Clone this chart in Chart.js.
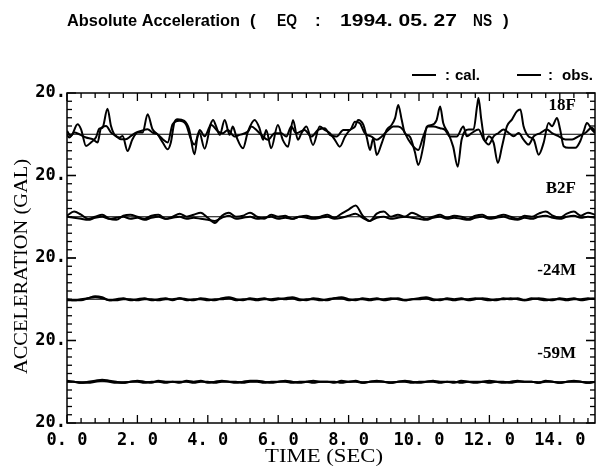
<!DOCTYPE html>
<html><head><meta charset="utf-8">
<script src="https://cdn.jsdelivr.net/npm/chart.js@4.4.1/dist/chart.umd.min.js"></script>
<style>html,body{margin:0;padding:0;background:#fff;}</style>
</head><body>
<canvas id="c" width="601" height="469"></canvas>
<script>
// ---------------- DATA ----------------
const bandNames = ['18F', 'B2F', '-24M', '-59M'];
const seriesNames = ['cal.', 'obs.'];
const xTickValues = [0, 2, 4, 6, 8, 10, 12, 14];
const bandTickTop = [20];
const bandTickBottom = [20, -20];
const sampleStep = 0.2; // sec, lower floors

// 18F (read at irregular times, sec / gal)
const tObs18F = [0.00,0.11,0.30,0.40,0.54,0.68,0.82,0.92,1.01,1.15,1.25,1.34,1.49,1.58,1.72,1.86,2.01,2.15,2.29,2.43,2.57,2.72,2.86,2.95,3.05,3.14,3.33,3.47,3.62,3.71,
 3.77,3.91,4.05,4.15,4.24,4.34,4.48,4.62,4.71,4.81,5.00,5.14,5.33,5.47,5.57,5.66,5.80,5.99,6.13,6.28,6.42,6.56,6.66,6.80,6.99,7.18,7.32,
 7.47,7.61,7.75,7.90,8.04,8.18,8.27,8.42,8.51,8.61,8.70,8.80,8.94,9.08,9.22,9.32,9.41,9.51,9.60,9.74,9.88,9.98,10.12,10.22,10.36,10.50,10.60,10.69,10.83,10.97,11.10,11.21,
 11.41,11.55,11.65,11.69,11.77,11.88,11.98,12.12,12.24,12.36,12.50,12.64,12.78,12.88,12.97,13.11,13.26,13.40,13.54,13.68,13.78,13.92,14.01,14.11,14.25,14.44,14.58,14.68,14.77,14.91,15.00];
const vObs18F = [1.6,-0.8,4.8,2.4,-5.7,-4.0,-1.6,2.7,3.2,12.4,4.0,0,-1.6,-0.8,-8.1,-2.4,0.8,0.8,9.7,2.4,0,-4.0,-7.3,-4.0,5.7,7.3,6.5,2.4,-9.7,-0.8,
 2.1,-1.0,3.7,6.9,3.7,-0.3,6.9,-0.3,3.7,-1.1,-6.8,1.3,6.9,2.9,-2.7,2.1,-6.8,4.5,-2.7,-6.0,6.9,-2.7,0.5,3.7,-5.2,3.7,2.1,
 0.5,-2.7,-6.0,-1.1,2.1,3.7,6.9,4.5,-1.1,-7.6,-1.9,-10.0,-4.4,2.1,4.5,7.8,14.2,6.9,0.5,-1.1,-8.4,-14.9,-6.0,3.7,4.5,6.9,13.4,5.3,0.5,-6.0,-15.7,-2.7,
 2.3,2.3,13.6,17.6,7.1,-3.4,-1.0,-4.2,-13.9,-5.8,3.9,7.1,11.1,12.0,3.9,-1.0,-2.6,-9.9,-4.2,5.5,3.9,7.9,2.3,-5.8,-6.6,-6.6,-3.4,1.5,5.5,2.3,0.6];

const tCal18F = [0.00,0.06,0.21,0.35,0.54,0.73,0.87,0.96,1.11,1.25,1.39,1.53,1.67,1.82,1.96,2.10,2.29,2.43,2.57,2.72,2.86,3.00,3.19,3.38,3.52,3.62,3.76,
 3.91,4.10,4.29,4.43,4.57,4.76,4.90,5.14,5.24,5.38,5.52,5.71,5.90,6.09,6.23,6.37,6.51,6.75,6.94,7.13,7.32,
 7.47,7.66,7.85,8.04,8.18,8.32,8.46,8.65,8.80,8.94,9.13,9.27,9.41,9.55,9.70,9.84,9.98,10.12,10.26,10.41,10.60,10.74,10.88,11.07,11.26,
 11.36,11.50,11.69,11.84,11.98,12.12,12.26,12.40,12.55,12.69,12.83,12.97,13.11,13.26,13.45,13.63,13.78,13.97,14.16,14.35,14.53,14.72,14.91,15.00];
const vCal18F = [0,-1.6,0.8,0,-1.6,-2.4,-4.0,2.7,4.0,0.8,-0.8,-2.4,-2.4,-0.8,0.8,1.6,2.4,0.8,0,-2.4,-4.0,4.8,6.5,4.8,-2.4,-5.0,0.8,
 -7.0,4.5,1.3,0.5,2.1,-1.1,-0.3,1.3,3.7,2.1,-0.3,-2.7,0.5,0.5,-1.1,3.7,0.5,2.1,-1.1,2.1,2.9,
 -0.3,-1.1,2.1,2.1,6.1,5.3,0.5,-1.1,-2.7,-1.1,2.1,3.7,3.7,2.1,-2.7,-6.0,-7.6,-1.1,3.7,3.7,2.9,2.1,-1.1,-1.1,3.7,
 -1.0,0.6,2.3,-2.6,-5.0,-1.0,0.6,2.3,0.6,-1.0,0.6,-2.6,-5.0,-1.0,0.6,2.3,0.6,-1.0,-2.6,-2.6,-1.0,0.6,3.1,1.5];

// lower floors, every 0.2 sec from 0 to 15 (gal)
const obsB2F = [0.5,2.5,1.0,-1.0,0.0,1.0,-1.0,-1.5,0.5,1.0,
 0.0,-1.0,0.5,1.0,-1.0,0.0,1.5,0.0,1.0,2.0,
 -0.5,-3.0,0.5,2.0,0.0,0.5,2.0,0.0,-1.0,1.0,
 0.0,0.5,-1.0,0.0,0.5,-0.5,0.0,1.0,-0.5,1.5,
 3.5,5.5,0.5,-2.0,1.5,2.5,0.0,1.0,0.0,2.0,
 0.5,-1.0,0.0,1.0,-0.5,0.5,0.0,-1.0,0.5,1.0,
 -0.5,0.0,1.0,0.0,-1.0,0.5,0.0,1.5,2.5,0.5,
 -0.5,1.5,2.5,0.5,2.0,1.0];
const calB2F = [0.0,-0.5,-1.0,-1.5,-0.5,0.0,-1.0,-0.5,0.0,-1.0,
 -0.5,-1.5,-0.5,0.0,-1.0,-0.5,0.0,-1.0,-0.5,-1.0,
 -1.5,-2.0,-0.5,0.5,-1.0,-0.5,0.0,-1.0,-0.5,0.0,
 -1.0,-0.5,-1.0,0.0,-0.5,-1.0,-0.5,0.0,-1.0,-0.5,
 0.5,1.5,-0.5,-2.0,-0.5,0.0,-1.0,-0.5,0.0,-0.5,
 -1.0,-1.5,-0.5,0.0,-1.0,-0.5,-1.0,-1.5,-0.5,0.0,
 -1.0,-0.5,0.0,-1.0,-1.5,-0.5,-1.0,0.0,0.5,-0.5,
 -1.0,0.0,0.5,-0.5,0.0,-0.5];
const obs24M = [0.0,-0.5,-0.5,0.5,1.5,1.0,-0.5,0.0,0.5,-0.5,
 0.0,0.5,-0.5,0.0,0.5,-0.5,0.5,0.0,-0.5,0.5,
 0.0,-0.5,0.5,1.0,0.0,-0.5,0.5,0.0,0.5,-0.5,
 0.0,0.5,1.0,0.0,-0.5,0.5,0.0,-0.5,0.5,1.0,
 0.0,-0.5,0.5,0.0,0.5,-0.5,0.0,0.5,-0.5,0.0,
 0.5,1.0,0.0,-0.5,0.5,0.0,0.5,-0.5,0.0,0.5,
 0.0,-0.5,0.5,0.0,0.5,-0.5,0.0,0.5,0.0,-0.5,
 0.5,0.0,0.5,-0.5,0.0,0.5];
const cal24M = [-0.5,-0.5,0.0,0.5,1.0,0.5,-0.5,-0.5,0.0,0.0,
 -0.5,0.0,0.0,-0.5,0.0,0.0,0.5,-0.5,0.0,0.0,
 -0.5,0.0,0.0,0.5,-0.5,0.0,0.0,-0.5,0.0,0.0,
 0.5,0.0,0.5,-0.5,0.0,0.0,-0.5,0.0,0.5,0.5,
 -0.5,0.0,0.0,-0.5,0.0,0.0,0.5,0.0,-0.5,0.0,
 0.0,0.5,-0.5,0.0,0.0,-0.5,0.0,0.0,0.5,0.0,
 -0.5,0.0,0.0,0.5,0.0,-0.5,0.5,0.0,-0.5,0.0,
 0.0,-0.5,0.0,0.0,0.5,0.0];
const obs59M = [0.5,0.0,-0.5,0.0,0.5,1.0,0.5,0.0,-0.5,0.0,
 0.5,0.0,-0.5,0.5,0.0,0.0,-0.5,0.5,0.0,0.5,
 -0.5,0.0,0.5,0.0,-0.5,0.0,0.5,0.5,0.0,-0.5,
 0.0,0.5,0.0,-0.5,0.0,0.5,0.0,0.0,-0.5,0.5,
 0.0,0.5,-0.5,0.0,0.5,0.0,-0.5,0.0,0.5,0.0,
 -0.5,0.0,0.5,0.0,0.0,-0.5,0.5,0.0,-0.5,0.0,
 0.5,0.0,-0.5,0.0,0.5,0.0,0.0,-0.5,0.5,0.0,
 -0.5,0.0,0.5,0.0,-0.5,0.0];
const cal59M = [0.0,0.0,-0.5,-0.5,0.0,0.5,0.0,-0.5,-0.5,0.0,
 0.0,-0.5,0.0,0.0,-0.5,0.0,0.0,0.0,-0.5,0.0,
 0.0,-0.5,0.0,0.0,0.0,-0.5,0.0,0.0,-0.5,0.0,
 0.0,0.0,-0.5,0.0,0.0,-0.5,0.0,0.0,0.0,-0.5,
 0.0,0.0,-0.5,0.0,0.0,0.0,-0.5,0.0,0.0,-0.5,
 0.0,0.0,0.0,-0.5,0.0,0.0,-0.5,0.0,0.0,0.0,
 -0.5,0.0,0.0,-0.5,0.0,0.0,0.0,-0.5,0.0,0.0,
 -0.5,0.0,0.0,0.0,-0.5,0.0];

// ---------------- BUILD ----------------
const pts = (ts, vs) => vs.map((v, i) => ({x: ts[i], y: v}));
const tSampled = obsB2F.map((_, i) => +(i * sampleStep).toFixed(2));
const bandSeries = [
  [pts(tCal18F, vCal18F), pts(tObs18F, vObs18F)],
  [pts(tSampled, calB2F), pts(tSampled, obsB2F)],
  [pts(tSampled, cal24M), pts(tSampled, obs24M)],
  [pts(tSampled, cal59M), pts(tSampled, obs59M)]
];
const bandIds = bandNames.map((_, i) => 'b' + i);

const datasets = [];
bandSeries.forEach((pair, bi) => {
  datasets.push({label: 'zero', data: [{x: 0, y: 0}, {x: 15, y: 0}], yAxisID: bandIds[bi],
    borderColor: '#000', borderWidth: 1, pointRadius: 0, tension: 0});
  pair.forEach((d, si) => {
    datasets.push({label: bandNames[bi] + ' ' + seriesNames[si], data: d, yAxisID: bandIds[bi],
      borderColor: '#000', borderWidth: 2, pointRadius: 0, cubicInterpolationMode: 'monotone'});
  });
});

const tickFont = {family: 'DejaVu Sans Mono', weight: 'bold', size: 17};
const scales = {
  x: {
    type: 'linear', position: 'bottom', min: 0, max: 15,
    grid: {display: false, drawTicks: false}, border: {display: false},
    afterBuildTicks: s => { s.ticks = xTickValues.map(v => ({value: v})); },
    afterFit: s => { s.height = 46; },
    ticks: {font: tickFont, color: '#000', padding: 7, maxRotation: 0, autoSkip: false,
      callback: v => Number(v).toFixed(1).replace('.', '. ')}
  }
};
bandIds.forEach((id, i) => {
  scales[id] = {
    type: 'linear', position: 'left', stack: 'bands', stackWeight: 1, weight: bandIds.length - i,
    min: -20, max: 20,
    grid: {display: false, drawTicks: false}, border: {display: false},
    afterBuildTicks: s => { s.ticks = (i === bandIds.length - 1 ? bandTickBottom : bandTickTop).map(v => ({value: v})); },
    afterFit: s => { s.width = 67; },
    ticks: {font: tickFont, color: '#000', padding: 1, autoSkip: false,
      callback: v => Math.abs(v) + '.'}
  };
});

function fitText(ctx, text, x, y, w) {
  const m = ctx.measureText(text).width;
  ctx.save(); ctx.translate(x, y); ctx.scale(w / m, 1);
  ctx.textAlign = 'left'; ctx.fillText(text, 0, 0); ctx.restore();
}

const decor = {
  id: 'decor',
  afterDraw(chart) {
    const {ctx, chartArea: a} = chart;
    const sc = chart.scales;
    ctx.save();
    ctx.strokeStyle = '#000'; ctx.fillStyle = '#000';
    ctx.lineWidth = 1.5;
    ctx.strokeRect(a.left, a.top, a.right - a.left, a.bottom - a.top);
    const seg = (x1, y1, x2, y2) => { ctx.beginPath(); ctx.moveTo(x1, y1); ctx.lineTo(x2, y2); ctx.stroke(); };
    // x ticks every 0.4 s, long at 2 s
    ctx.lineWidth = 1.3;
    for (let k = 0; k <= 37; k++) {
      const v = k * 0.4;
      const px = sc.x.getPixelForValue(v);
      const major = k % 5 === 0;
      const L = major ? 8 : 5;
      seg(px, a.bottom, px, a.bottom - L);
      seg(px, a.top, px, a.top + L);
    }
    // y ticks every 4 gal, long at band limits
    bandIds.forEach(id => {
      const s = sc[id];
      for (let v = -20; v <= 20; v += 4) {
        const py = s.getPixelForValue(v);
        const L = Math.abs(v) === 20 ? 9 : 5;
        seg(a.left, py, a.left + L, py);
        seg(a.right, py, a.right - L, py);
      }
    });
    // title
    ctx.textBaseline = 'middle';
    ctx.font = 'bold 17px "Liberation Sans"';
    [['Absolute Acceleration', 67, 173], ['(', 250, 0], ['EQ', 277, 20], [':', 315, 0],
     ['1994. 05. 27', 340, 117], ['NS', 473, 19], [')', 503, 0]].forEach(([t, x, w]) => {
      if (w) fitText(ctx, t, x, 21, w); else { ctx.textAlign = 'left'; ctx.fillText(t, x, 21); }
    });
    // legend
    ctx.lineWidth = 2;
    seg(412, 75, 436, 75); seg(517, 75, 541, 75);
    ctx.font = 'bold 15px "Liberation Sans"';
    ctx.textAlign = 'left';
    ctx.fillText(':', 445, 76); fitText(ctx, seriesNames[0], 455, 76, 25);
    ctx.fillText(':', 548, 76); fitText(ctx, seriesNames[1], 562, 76, 31);
    // band labels
    ctx.font = 'bold 17px "Liberation Serif"';
    ctx.textAlign = 'right';
    bandIds.forEach((id, i) => {
      const s = sc[id];
      ctx.fillText(bandNames[i], 576, s.getPixelForValue(20) + 13);
    });
    // axis titles
    ctx.font = '19px "Liberation Serif"';
    fitText(ctx, 'TIME (SEC)', 324 - 59, 457, 118);
    ctx.save();
    ctx.translate(22, 267); ctx.rotate(-Math.PI / 2);
    fitText(ctx, 'ACCELERATION (GAL)', -107, 0, 215);
    ctx.restore();
    ctx.restore();
  }
};

new Chart(document.getElementById('c'), {
  type: 'line',
  data: {datasets},
  options: {
    responsive: false, animation: false, devicePixelRatio: 1,
    layout: {padding: {top: 93, right: 6, left: 0, bottom: 0}},
    plugins: {legend: {display: false}, title: {display: false}, tooltip: {enabled: false}},
    scales
  },
  plugins: [decor]
});
</script>
</body></html>
